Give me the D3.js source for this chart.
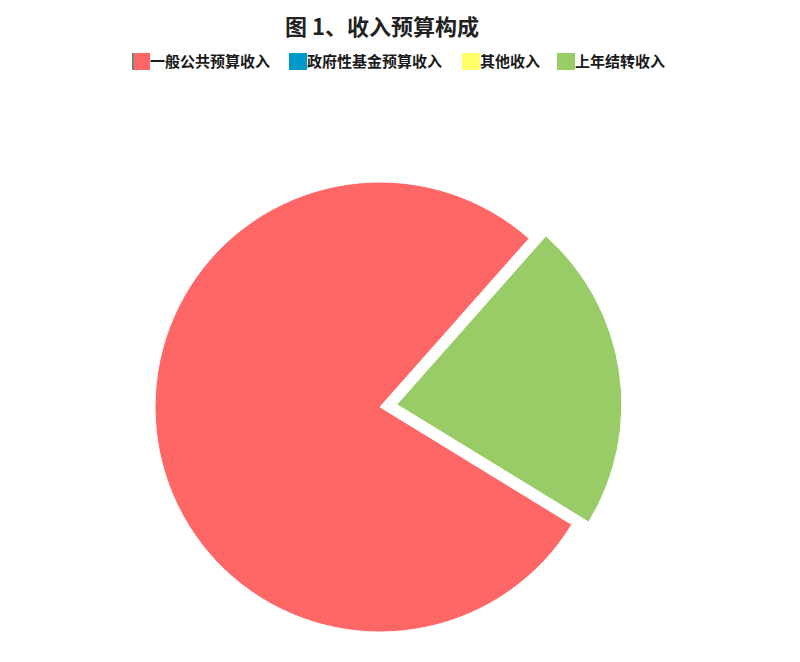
<!DOCTYPE html>
<html>
<head>
<meta charset="utf-8">
<script src="https://cdn.jsdelivr.net/npm/d3@7"></script>
<style>
  body { margin: 0; background: #fff; }
  svg { display: block; font-family: "Noto Sans CJK SC", "Noto Sans", sans-serif; }
</style>
</head>
<body>
<div id="chart"></div>
<script>
// data
const categories = ["一般公共预算收入", "政府性基金预算收入", "其他收入", "上年结转收入"];
const values = [3500, 0, 0, 1000];
const colors = ["#ff6666", "#0099cc", "#ffff66", "#99cc66"];
const explode = [false, false, false, true];

const width = 800, height = 662;
const cx = 380, cy = 407, radius = 225;

const svg = d3.select("#chart")
  .append("svg")
    .attr("width", width)
    .attr("height", height);

// title
svg.append("text")
    .attr("x", 382)
    .attr("y", 35)
    .attr("text-anchor", "middle")
    .attr("font-size", "22px")
    .attr("font-weight", "bold")
    .attr("fill", "#222")
    .text("图 1、收入预算构成");

// legend
const legendX = [132, 289, 462, 557];
const legend = svg.append("g").attr("class", "legend");
categories.forEach(function(c, i) {
  const g = legend.append("g").attr("transform", `translate(${legendX[i]}, 53)`);
  g.append("rect")
      .attr("width", 18)
      .attr("height", 17)
      .attr("fill", colors[i]);
  if (i === 0) {
    g.append("rect")
        .attr("width", 1.5)
        .attr("height", 17)
        .attr("fill", "#3a8f86");
  }
  g.append("text")
      .attr("x", 18)
      .attr("y", 14)
      .attr("font-size", "15px")
      .attr("font-weight", "bold")
      .attr("fill", "#1a1a1a")
      .text(c);
});

// pie
const start = 121.5 * Math.PI / 180;
const pie = d3.pie()
  .sort(null)
  .value(d => d.value)
  .startAngle(start)
  .endAngle(start + 2 * Math.PI);

const arc = d3.arc().innerRadius(0).outerRadius(radius);

const data = categories.map((c, i) => ({name: c, value: values[i], color: colors[i], explode: explode[i]}));

const g = svg.append("g").attr("transform", `translate(${cx}, ${cy})`);

g.selectAll("path")
  .data(pie(data).filter(d => d.value > 0))
  .join("path")
    .attr("d", arc)
    .attr("fill", d => d.data.color)
    .attr("stroke", "#fff")
    .attr("stroke-width", 1)
    .attr("transform", function(d) {
      if (!d.data.explode) return null;
      const a = (d.startAngle + d.endAngle) / 2;
      const off = 17;
      return `translate(${Math.sin(a) * off}, ${-Math.cos(a) * off})`;
    });
</script>
</body>
</html>
